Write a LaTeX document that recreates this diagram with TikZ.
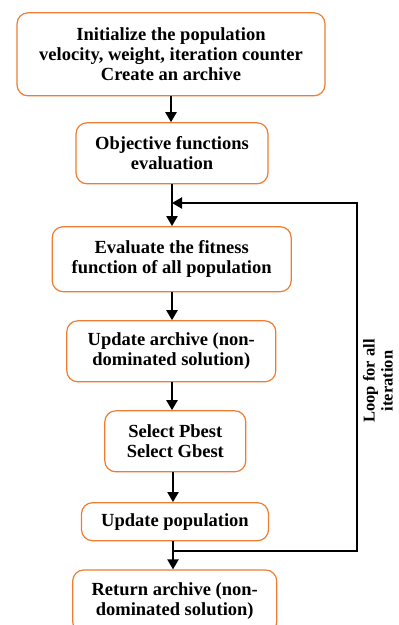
\documentclass[tikz,border=0pt]{standalone}
\usepackage{fontspec}
\setmainfont{Liberation Serif}
\usetikzlibrary{arrows.meta}
\definecolor{boxorange}{RGB}{237,125,49}
\tikzset{
	stepbox/.style={draw=boxorange, line width=1.2pt, rounded corners=11pt, align=center,
		font=\fontsize{18.5}{20}\selectfont\bfseries, inner sep=0pt},
	arr/.style={line width=2.1pt, -{Triangle[length=10pt,width=11pt]}}
}
\begin{document}
\begin{tikzpicture}[x=1pt, y=-1pt]
		\useasboundingbox (0,0) rectangle (399,625);
		\clip (0,0) rectangle (399,625);
		
		% Boxes
		\node[stepbox, minimum width=308pt, minimum height=83pt] (init) at (171, 54.3)
			{Initialize the population\\velocity, weight, iteration counter\\Create an archive};
		\node[stepbox, minimum width=192pt, minimum height=61pt] (objective) at (172, 153.3)
			{Objective functions\\evaluation};
		\node[stepbox, minimum width=239pt, minimum height=65pt] (fitness) at (171.7, 259.2)
			{Evaluate the fitness\\function of all population};
		\node[stepbox, minimum width=209pt, minimum height=61pt] (archive) at (171.3, 351.3)
			{Update archive (non-\\dominated solution)};
		\node[stepbox, minimum width=141pt, minimum height=61pt] (select) at (175.3, 441.3)
			{Select Pbest\\Select Gbest};
		\node[stepbox, minimum width=187pt, minimum height=38pt] (update) at (175, 521.7)
			{Update population};
		\node[stepbox, minimum width=204pt, minimum height=63pt] (return) at (174.7, 601.5)
			{Return archive (non-\\dominated solution)};
		
		% Arrows down
		\coordinate (loopin) at (172, 203);
		\coordinate (loopout) at (173, 551);
		\coordinate (loopR) at (357, 551);
		\draw[arr] (init.south -| 171,0) -- (objective.north -| 171,0);
		\draw[arr] (objective.south -| loopin) -- (fitness.north -| loopin);
		\draw[arr] (fitness.south -| 172,0) -- (archive.north -| 172,0);
		\draw[arr] (archive.south -| 172,0) -- (select.north -| 172,0);
		\draw[arr] (select.south -| 173,0) -- (update.north -| 173,0);
		\draw[arr] (update.south -| loopout) -- (return.north -| loopout);
		
		% Loop back
		\draw[arr] (loopout) -- (loopR) |- (loopin);
		\node[rotate=90, align=center, font=\fontsize{16.5}{18}\selectfont\bfseries] (looplabel) at (378, 381)
			{Loop for all\\iteration};
	\end{tikzpicture}
\end{document}
